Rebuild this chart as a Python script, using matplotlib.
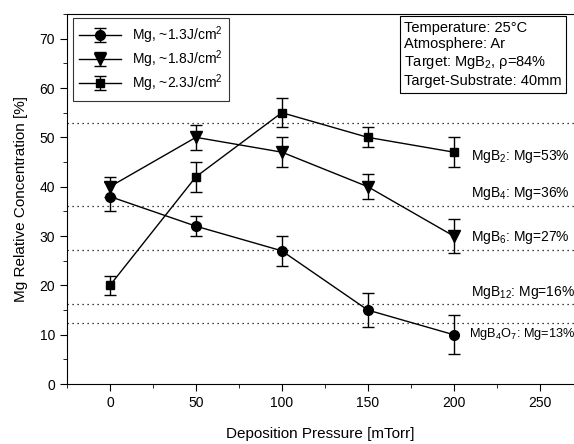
import matplotlib
matplotlib.use("Agg")
import matplotlib.pyplot as plt
from matplotlib.ticker import MultipleLocator

plt.rcParams["font.family"] = ["Liberation Sans", "DejaVu Sans"]
plt.rcParams["mathtext.default"] = "regular"

# data
pressure = [0, 50, 100, 150, 200]
mg_13 = [38, 32, 27, 15, 10]
err_13 = [3, 2, 3, 3.5, 4]
mg_18 = [40, 50, 47, 40, 30]
err_18 = [2, 2.5, 3, 2.5, 3.5]
mg_23 = [20, 42, 55, 50, 47]
err_23 = [2, 3, 3, 2, 3]
labels = ["Mg, ~1.3J/cm$^2$", "Mg, ~1.8J/cm$^2$", "Mg, ~2.3J/cm$^2$"]

ref_levels = [53, 36, 27.2, 16.2, 12.4]
ref_text = ["MgB$_2$: Mg=53%", "MgB$_4$: Mg=36%", "MgB$_6$: Mg=27%",
            "MgB$_{12}$: Mg=16%", "MgB$_4$O$_7$: Mg=13%"]
ref_text_y = [46.2, 38.7, 29.8, 18.6, 10.1]

fig = plt.figure(figsize=(5.74, 4.44), dpi=100)
ax = fig.add_axes([0.1167, 0.135, 0.8833, 0.8335])

for lev in ref_levels:
    ax.axhline(lev, color="black", ls=(0, (1, 3)), lw=0.9)
for i, (t, y) in enumerate(zip(ref_text, ref_text_y)):
    # last label is the longest: shrink it a bit so it stays inside the figure
    fs = 9.2 if i == len(ref_text) - 1 else 10
    ax.text(209 if i == len(ref_text) - 1 else 210, y, t,
            fontsize=fs, va="center", ha="left")

ax.errorbar(pressure, mg_13, yerr=err_13, fmt="-o", color="black", ms=7,
            lw=1, capsize=4, elinewidth=1, label=labels[0])
ax.errorbar(pressure, mg_18, yerr=err_18, fmt="-v", color="black", ms=8,
            lw=1, capsize=4, elinewidth=1, label=labels[1])
ax.errorbar(pressure, mg_23, yerr=err_23, fmt="-s", color="black", ms=6,
            lw=1, capsize=4, elinewidth=1, label=labels[2])

ax.set_xlim(-25, 270)
ax.set_ylim(0, 75)
ax.xaxis.set_major_locator(MultipleLocator(50))
ax.xaxis.set_minor_locator(MultipleLocator(25))
ax.yaxis.set_major_locator(MultipleLocator(10))
ax.yaxis.set_minor_locator(MultipleLocator(5))
ax.tick_params(which="both", direction="out", labelsize=10)
ax.tick_params(which="major", length=5)
ax.tick_params(which="minor", length=3)
ax.spines["right"].set_visible(False)

ax.set_xlabel("Deposition Pressure [mTorr]", fontsize=11, labelpad=12)
ax.set_ylabel("Mg Relative Concentration [%]", fontsize=11, labelpad=8)

leg = ax.legend(loc="upper left", fontsize=10, frameon=True, fancybox=False,
                edgecolor="black", borderpad=0.45, handlelength=3,
                labelspacing=0.2, borderaxespad=0,
                bbox_to_anchor=(0.012, 0.99))
leg.get_frame().set_linewidth(0.8)

ax.text(0.665, 0.982,
        "Temperature: 25°C\nAtmosphere: Ar\nTarget: MgB$_2$, ρ=84%\nTarget-Substrate: 40mm",
        transform=ax.transAxes, fontsize=10.5, va="top", ha="left",
        linespacing=1.25,
        bbox=dict(boxstyle="square,pad=0.3", fc="white", ec="black", lw=0.8))

fig.savefig("out.png", dpi=100)
